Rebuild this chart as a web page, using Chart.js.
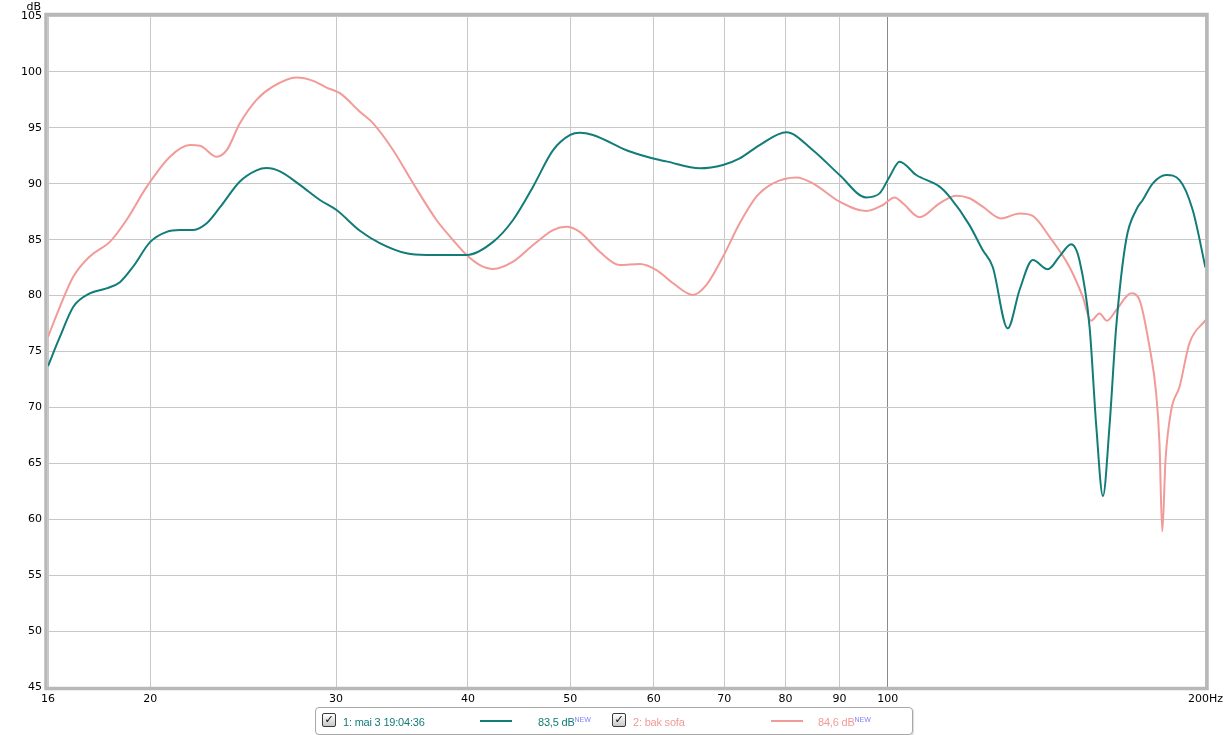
<!DOCTYPE html>
<html><head><meta charset="utf-8">
<script src="https://cdn.jsdelivr.net/npm/chart.js@4.4.1/dist/chart.umd.min.js"></script>
<style>
html,body{margin:0;padding:0;background:#fff;}
#wrap{position:relative;width:1229px;height:735px;overflow:hidden;}
#legend{position:absolute;left:315px;top:707px;width:596px;height:26px;border:1px solid #a8a8a8;border-radius:4px;background:#fff;font-family:"Liberation Sans",Arial,sans-serif;font-size:11px;letter-spacing:-0.2px;box-shadow:1px 1px 1px #ddd;}
.item{position:absolute;top:1px;height:26px;line-height:26px;white-space:nowrap;}
.cb{position:absolute;top:5px;width:12px;height:12px;border:1px solid #3a3a3a;border-radius:2px;background:linear-gradient(#ffffff,#c8c8c8);font-size:11px;line-height:12px;text-align:center;color:#000;font-family:"DejaVu Sans",sans-serif;font-weight:bold;letter-spacing:0;}
.ln{position:absolute;top:12px;height:2px;width:32px;}
.sup{font-size:7px;color:#7f7fff;position:relative;top:-4px;letter-spacing:0;}
</style></head>
<body>
<div id="wrap">
<canvas id="c" width="1229" height="735"></canvas>
<div id="legend">
  <div class="cb" style="left:6px">✓</div>
  <div class="item" style="left:27px;color:#127c78">1: mai 3 19:04:36</div>
  <div class="ln" style="left:164px;background:#127c78"></div>
  <div class="item" style="left:222px;color:#127c78">83,5 dB<span class="sup">NEW</span></div>
  <div class="cb" style="left:296px">✓</div>
  <div class="item" style="left:317px;color:#f29a97">2: bak sofa</div>
  <div class="ln" style="left:455px;background:#f29a97"></div>
  <div class="item" style="left:502px;color:#f29a97">84,6 dB<span class="sup">NEW</span></div>
</div>
</div>
<script>
// ---- data ----
const xTicks = [16, 20, 30, 40, 50, 60, 70, 80, 90, 100, 200];
const xTickLabels = ["16", "20", "30", "40", "50", "60", "70", "80", "90", "100", "200Hz"];
const seriesNames = ["1: mai 3 19:04:36", "2: bak sofa"];

const freqTeal = [16, 16.42, 16.91, 17.53, 18.18, 18.72, 19.27, 20.0, 20.73, 21.34, 21.97, 22.62, 23.29, 24.32, 25.22, 25.78, 26.54, 27.72, 28.96, 30.03, 31.6, 33.0, 34.98, 36.54, 39.89, 42.26, 44.14, 46.11, 48.17, 50.0, 51.05, 52.55, 56.54, 58.21, 60.8, 61.68, 66.33, 69.79, 72.38, 75.6, 80.14, 84.92, 90.01, 95.4, 98.21, 100.38, 102.6, 106.4, 111.95, 114.4, 119.5, 123.0, 125.7, 129.9, 133.3, 137.2, 141.8, 145.4, 149.2, 151.9, 155.3, 157.6, 159.9, 162.2, 164.6, 168.2, 171.9, 174.4, 178.3, 183.6, 189.0, 194.5, 200];
const dbTeal = [73.7, 76.3, 79.0, 80.2, 80.65, 81.2, 82.6, 84.8, 85.7, 85.86, 85.86, 86.46, 87.9, 90.2, 91.2, 91.4, 91.1, 89.9, 88.55, 87.65, 85.8, 84.7, 83.78, 83.63, 83.63, 84.8, 86.76, 89.74, 93.0, 94.36, 94.57, 94.36, 93.0, 92.6, 92.12, 92.0, 91.38, 91.68, 92.27, 93.46, 94.6, 93.0, 90.78, 88.78, 89.14, 90.63, 91.97, 90.78, 89.74, 88.84, 86.3, 84.07, 82.58, 77.07, 80.5, 83.18, 82.35, 83.48, 84.6, 83.18, 77.2, 68.3, 62.08, 68.3, 77.2, 84.97, 87.65, 88.55, 90.04, 90.78, 90.33, 87.65, 82.5];

const freqPink = [16, 16.42, 16.91, 17.53, 18.31, 18.99, 19.85, 20.88, 21.81, 22.29, 23.12, 23.63, 24.32, 25.22, 26.15, 27.52, 28.54, 29.38, 30.25, 31.6, 32.53, 33.98, 35.49, 37.35, 38.72, 39.89, 41.06, 42.26, 44.14, 46.11, 48.17, 49.59, 51.05, 53.33, 55.72, 58.21, 60.36, 62.59, 65.37, 67.31, 69.79, 72.38, 75.07, 77.83, 81.91, 84.92, 90.01, 95.4, 98.93, 101.48, 103.34, 107.18, 111.95, 116.1, 119.5, 123.0, 128.07, 133.3, 137.2, 142.3, 148.6, 153.0, 155.8, 158.7, 161.3, 164.6, 170.1, 173.2, 177.0, 179.6, 180.9, 182.0, 183.3, 185.6, 189.0, 193.1, 200];
const dbPink = [76.3, 79.0, 81.7, 83.5, 84.8, 86.76, 89.74, 92.42, 93.46, 93.4, 92.42, 93.0, 95.4, 97.5, 98.7, 99.5, 99.2, 98.6, 98.1, 96.44, 95.4, 93.0, 90.04, 86.76, 84.97, 83.63, 82.73, 82.38, 83.03, 84.52, 85.86, 86.16, 85.7, 83.92, 82.73, 82.82, 82.28, 81.1, 80.05, 80.95, 83.48, 86.46, 88.84, 90.04, 90.57, 90.04, 88.4, 87.56, 88.1, 88.78, 88.25, 87.0, 88.25, 88.93, 88.7, 87.95, 86.9, 87.35, 87.12, 85.26, 82.58, 79.9, 77.75, 78.4, 77.75, 78.7, 80.2, 79.6, 75.43, 71.26, 66.8, 58.9, 65.3, 69.77, 71.85, 75.73, 77.8];

const tealColor = "#127c78";
const pinkColor = "#f29a97";

const toXY = (fs, ds) => fs.map((f, i) => ({ x: f, y: ds[i] }));

Chart.defaults.font.family = "'DejaVu Sans', sans-serif";
Chart.defaults.font.size = 11;
Chart.defaults.color = "#000";

const framePlugin = {
  id: "frame",
  afterDatasetsDraw(chart) {
    const a = chart.chartArea, ctx = chart.ctx;
    ctx.save();
    ctx.strokeStyle = "#b8b8b8";
    ctx.lineWidth = 3.5;
    ctx.strokeRect(a.left - 2, a.top - 1.5, a.right - a.left + 3.5, a.bottom - a.top + 3);
    ctx.fillStyle = "#000";
    ctx.font = "11px 'DejaVu Sans', sans-serif";
    ctx.textAlign = "right";
    ctx.textBaseline = "alphabetic";
    ctx.fillText("dB", a.left - 7, a.top - 6);
    ctx.restore();
  }
};

new Chart(document.getElementById("c"), {
  type: "line",
  data: {
    datasets: [
      { label: seriesNames[0], data: toXY(freqTeal, dbTeal), borderColor: tealColor, borderWidth: 2, pointRadius: 0, cubicInterpolationMode: "monotone", fill: false },
      { label: seriesNames[1], data: toXY(freqPink, dbPink), borderColor: pinkColor, borderWidth: 2, pointRadius: 0, cubicInterpolationMode: "monotone", fill: false }
    ]
  },
  options: {
    responsive: false,
    animation: false,
    devicePixelRatio: 1,
    layout: { padding: { top: 16, right: 23, left: 0, bottom: 0 } },
    plugins: { legend: { display: false }, tooltip: { enabled: false } },
    scales: {
      x: {
        type: "logarithmic", min: 16, max: 200,
        afterBuildTicks: (s) => { s.ticks = xTicks.map(v => ({ value: v })); },
        afterFit: (s) => { s.height = 48; },
        ticks: {
          autoSkip: false, maxRotation: 0, padding: 6,
          callback: (v) => { const i = xTicks.indexOf(v); return i >= 0 ? xTickLabels[i] : ""; }
        },
        grid: {
          drawTicks: false,
          color: (c) => (c.tick && c.tick.value === 100) ? "#8a8a8a" : "#c8c8c8",
          lineWidth: 1
        },
        border: { display: false }
      },
      y: {
        min: 45, max: 105,
        afterFit: (s) => { s.width = 48; },
        ticks: { stepSize: 5, padding: 6 },
        grid: { drawTicks: false, color: "#c8c8c8", lineWidth: 1 },
        border: { display: false }
      }
    }
  },
  plugins: [framePlugin]
});
</script>
</body></html>
